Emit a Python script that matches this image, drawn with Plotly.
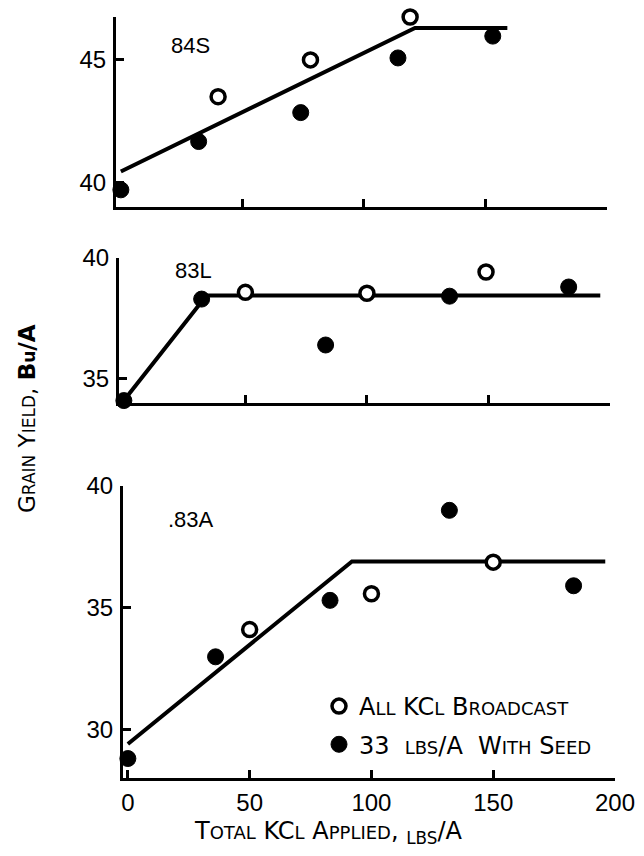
import plotly.graph_objects as go

# ---------------- data ----------------
# 84S
s84_open_x = [40, 78, 119]
s84_open_y = [43.5, 45.0, 46.75]
s84_fill_x = [0, 32, 74, 114, 153]
s84_fill_y = [39.7, 41.67, 42.85, 45.08, 45.97]
s84_fit_x = [0, 121, 159]
s84_fit_y = [40.45, 46.3, 46.3]

# 83L
l83_open_x = [50, 100, 149]
l83_open_y = [38.58, 38.54, 39.42]
l83_fill_x = [0, 32, 83, 134, 183]
l83_fill_y = [34.1, 38.3, 36.4, 38.42, 38.8]
l83_fit_x = [0, 34, 196]
l83_fit_y = [34.1, 38.45, 38.45]

# 83A
a83_open_x = [50, 100, 150]
a83_open_y = [34.1, 35.57, 36.87]
a83_fill_x = [0, 36, 83, 132, 183]
a83_fill_y = [28.8, 32.98, 35.3, 39.0, 35.9]
a83_fit_x = [0, 92, 196]
a83_fit_y = [29.4, 36.9, 36.9]

x_ticks = [0, 50, 100, 150, 200]
top_yticks = [40, 45]
mid_yticks = [35, 40]
bot_yticks = [30, 35, 40]

NARROW = "Liberation Sans Narrow, Liberation Sans, Arial, sans-serif"
WIDE = "DejaVu Sans, Liberation Sans, sans-serif"


def sc(s, size=18):
    return "<span style='font-size:%dpx'>%s</span>" % (size, s)


fig = go.Figure()

panels = [
    ("", s84_fit_x, s84_fit_y, s84_open_x, s84_open_y, s84_fill_x, s84_fill_y),
    ("2", l83_fit_x, l83_fit_y, l83_open_x, l83_open_y, l83_fill_x, l83_fill_y),
    ("3", a83_fit_x, a83_fit_y, a83_open_x, a83_open_y, a83_fill_x, a83_fill_y),
]

name_open = "A" + sc("LL") + " KC" + sc("L") + " B" + sc("ROADCAST")
name_fill = "33  " + sc("LBS") + "/A  W" + sc("ITH") + " S" + sc("EED")

for i, (k, fx, fy, ox, oy, px, py) in enumerate(panels):
    xa, ya = "x" + k, "y" + k
    fig.add_trace(go.Scatter(x=fx, y=fy, mode="lines", xaxis=xa, yaxis=ya,
                             line=dict(color="black", width=4), showlegend=False,
                             hoverinfo="skip", cliponaxis=False))
    fig.add_trace(go.Scatter(x=ox, y=oy, mode="markers", xaxis=xa, yaxis=ya,
                             marker=dict(symbol="circle", size=14, color="white",
                                         line=dict(color="black", width=3.5)),
                             name=name_open, legendgroup="open", legendrank=1,
                             showlegend=(i == 0), cliponaxis=False))
    fig.add_trace(go.Scatter(x=px, y=py, mode="markers", xaxis=xa, yaxis=ya,
                             marker=dict(symbol="circle", size=16, color="black",
                                         line=dict(color="black", width=1)),
                             name=name_fill, legendgroup="fill", legendrank=2,
                             showlegend=(i == 0), cliponaxis=False))

W, H = 644, 856
OFF = 8  # page body margin offset


def xd(a, b):
    return [(a - OFF) / W, (b - OFF) / W]


def yd(top, bot):
    return [1 - (bot - OFF) / H, 1 - (top - OFF) / H]


def px(x):
    return (x - OFF) / W


def py(y):
    return 1 - (y - OFF) / H


axis_common = dict(showline=True, linecolor="black", linewidth=3, ticks="inside",
                   tickcolor="black", tickwidth=2.5, ticklen=8, showgrid=False,
                   zeroline=False, mirror=False, automargin=False,
                   tickfont=dict(family=NARROW, size=24, color="black"))

fig.update_layout(
    template="none",
    width=W, height=H, margin=dict(l=0, r=0, t=0, b=0, pad=0, autoexpand=False),
    paper_bgcolor="white", plot_bgcolor="white",
    xaxis=dict(axis_common, domain=xd(116, 607), range=[-2, 200], anchor="y",
               tickvals=x_ticks[1:], showticklabels=False),
    yaxis=dict(axis_common, domain=yd(17, 207), range=[39, 46.75], anchor="x",
               tickvals=top_yticks, ticklabelstandoff=2),
    xaxis2=dict(axis_common, domain=xd(119, 610), range=[-2, 200], anchor="y2",
                tickvals=x_ticks[1:], showticklabels=False),
    yaxis2=dict(axis_common, domain=yd(258, 403), range=[34, 40], anchor="x2",
                tickvals=mid_yticks, ticklabelstandoff=2),
    xaxis3=dict(axis_common, domain=xd(123, 615), range=[-2, 200], anchor="y3",
                tickvals=x_ticks, ticklabelstandoff=1),
    yaxis3=dict(axis_common, domain=yd(486, 778), range=[28, 40], anchor="x3",
                tickvals=bot_yticks, ticklabelstandoff=2),
    showlegend=True,
    legend=dict(x=px(319), y=py(684), xanchor="left", yanchor="top",
                bgcolor="rgba(0,0,0,0)", tracegroupgap=4, borderwidth=0,
                font=dict(family=WIDE, size=24, color="black")),
)

ann_font = dict(family=NARROW, size=22, color="black")
for txt, x_, y_ in [("84S", 190, 45), ("83L", 193, 270), (".83A", 191, 519)]:
    fig.add_annotation(text=txt, x=px(x_), y=py(y_), xref="paper", yref="paper",
                       xanchor="center", yanchor="middle", showarrow=False, font=ann_font)

xtitle = "T" + sc("OTAL") + " KC" + sc("L") + " A" + sc("PPLIED") + ", <sub>LBS</sub>/A"
fig.add_annotation(text=xtitle, x=px(328), y=py(832), xref="paper", yref="paper",
                   xanchor="center", yanchor="middle", showarrow=False,
                   font=dict(family=WIDE, size=24, color="black"))
ytitle = "G" + sc("RAIN", 17) + " Y" + sc("IELD", 17) + ", <b>B" + sc("u", 17) + "/A</b>"
fig.add_annotation(text=ytitle, x=px(27), y=py(419), xref="paper", yref="paper",
                   xanchor="center", yanchor="middle", showarrow=False, textangle=-90,
                   font=dict(family=WIDE, size=23, color="black"))

fig.write_html("out.html")
